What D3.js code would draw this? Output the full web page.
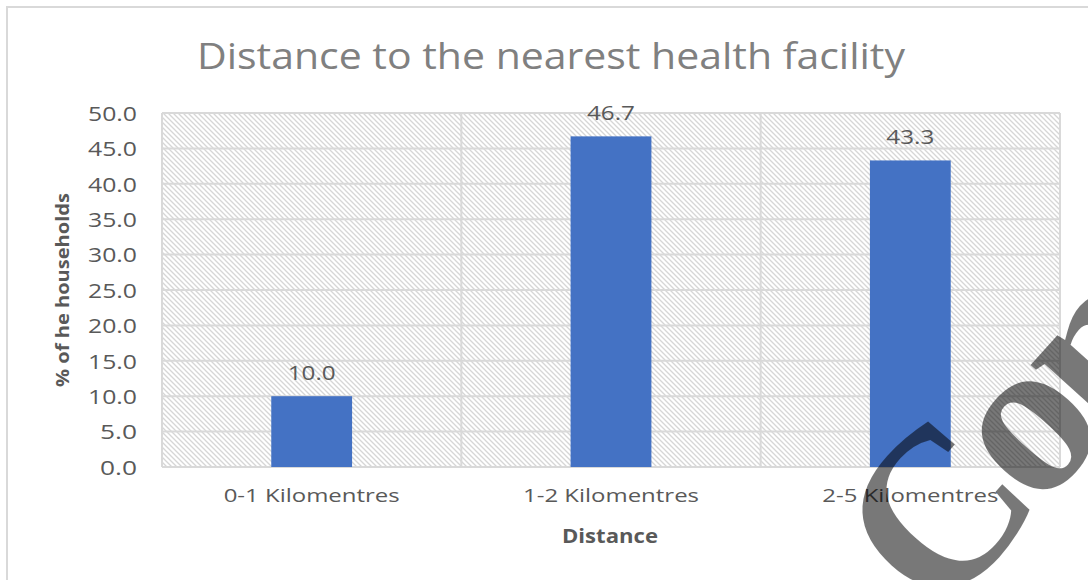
<!DOCTYPE html>
<html>
<head>
<meta charset="utf-8">
<script src="https://cdn.jsdelivr.net/npm/d3@7"></script>
<style>
  body { margin: 0; background: #fff; }
  svg { display: block; }
</style>
</head>
<body>
<svg id="main-svg" width="1088" height="580"></svg>
<script>
// chart values
let categories = ["0-1 Kilomentres", "1-2 Kilomentres", "2-5 Kilomentres"];
let values = [10.0, 46.7, 43.3];
let yTicks = [0, 5, 10, 15, 20, 25, 30, 35, 40, 45, 50];

let width = 1088, height = 580;
let margin = { left: 162, right: 28, top: 113, bottom: 113 };
let textColor = "#595959";
let gridColor = "#d9d9d9";

let svg = d3.select("#main-svg");

// hatch pattern for the plot area
let defs = svg.append("defs");
let hatch = defs.append("pattern")
    .attr("id", "hatch")
    .attr("patternUnits", "userSpaceOnUse")
    .attr("width", 5)
    .attr("height", 5);
hatch.append("rect").attr("width", 5).attr("height", 5).attr("fill", "#fff");
hatch.append("path")
    .attr("d", "M0,0 L5,5 M-1,4 L1,6 M4,-1 L6,1")
    .attr("stroke", "#d6d6d6")
    .attr("stroke-width", 1.3);

// outer frame
svg.append("rect")
    .attr("x", 7).attr("y", 7)
    .attr("width", width + 20).attr("height", height + 20)
    .attr("fill", "#fff")
    .attr("stroke", gridColor)
    .attr("stroke-width", 2);

let x = d3.scaleBand().domain(categories).range([margin.left, width - margin.right]).padding(0);
let y = d3.scaleLinear().domain([0, 50]).range([height - margin.bottom, margin.top]);

let plot = svg.append("g");

plot.append("rect")
    .attr("x", x.range()[0])
    .attr("y", y(50))
    .attr("width", x.range()[1] - x.range()[0])
    .attr("height", y(0) - y(50))
    .attr("fill", "url(#hatch)");

// horizontal grid lines
plot.selectAll(".hgrid")
    .data(yTicks)
    .enter().append("line")
    .attr("class", "hgrid")
    .attr("x1", x.range()[0]).attr("x2", x.range()[1])
    .attr("y1", d => y(d)).attr("y2", d => y(d))
    .attr("stroke", gridColor)
    .attr("stroke-width", 2);

// vertical grid lines at category edges
let edges = categories.map(c => x(c)).concat([x.range()[1]]);
plot.selectAll(".vgrid")
    .data(edges)
    .enter().append("line")
    .attr("class", "vgrid")
    .attr("x1", d => d).attr("x2", d => d)
    .attr("y1", y(50)).attr("y2", y(0))
    .attr("stroke", gridColor)
    .attr("stroke-width", 2);

// bars
let barW = x.bandwidth() * 0.27;
plot.selectAll(".bar")
    .data(values)
    .enter().append("rect")
    .attr("class", "bar")
    .attr("x", (d, i) => x(categories[i]) + x.bandwidth() / 2 - barW / 2)
    .attr("y", d => y(d))
    .attr("width", barW)
    .attr("height", d => y(0) - y(d))
    .attr("fill", "#4472C4");

// value labels
plot.selectAll(".val")
    .data(values)
    .enter().append("text")
    .attr("class", "val")
    .attr("x", (d, i) => x(categories[i]) + x.bandwidth() / 2)
    .attr("y", d => y(d) - 16)
    .attr("text-anchor", "middle")
    .attr("font-family", "Open Sans")
    .attr("font-size", 20)
    .attr("fill", textColor)
    .attr("textLength", 48)
    .attr("lengthAdjust", "spacingAndGlyphs")
    .text(d => d.toFixed(1));

// y axis
let yAxis = d3.axisLeft(y).tickValues(yTicks).tickSize(0).tickPadding(25).tickFormat(d3.format(".1f"));
let yg = svg.append("g")
    .attr("transform", "translate(" + margin.left + ",0)")
    .call(yAxis);
yg.select(".domain").remove();
yg.selectAll("text")
    .attr("font-family", "Open Sans")
    .attr("font-size", 20)
    .attr("fill", textColor)
    .attr("dy", "0.36em")
    .attr("textLength", d => d >= 10 ? 49 : 37)
    .attr("lengthAdjust", "spacingAndGlyphs");

// x axis
let xAxis = d3.axisBottom(x).tickSize(0).tickPadding(22);
let xg = svg.append("g")
    .attr("transform", "translate(0," + y(0) + ")")
    .call(xAxis);
xg.select(".domain").remove();
xg.selectAll("text")
    .attr("font-family", "Open Sans")
    .attr("font-size", 19)
    .attr("fill", textColor)
    .attr("textLength", 176)
    .attr("lengthAdjust", "spacingAndGlyphs");

// title
svg.append("text")
    .attr("x", 551)
    .attr("y", 69)
    .attr("text-anchor", "middle")
    .attr("font-family", "Open Sans")
    .attr("font-size", 37)
    .attr("fill", "#808080")
    .attr("textLength", 708)
    .attr("lengthAdjust", "spacingAndGlyphs")
    .text("Distance to the nearest health facility");

// axis titles
svg.append("text")
    .attr("x", 610)
    .attr("y", 543)
    .attr("text-anchor", "middle")
    .attr("font-family", "Open Sans")
    .attr("font-weight", "bold")
    .attr("font-size", 19)
    .attr("fill", textColor)
    .attr("textLength", 96)
    .attr("lengthAdjust", "spacingAndGlyphs")
    .text("Distance");

svg.append("text")
    .attr("transform", "translate(69,290) rotate(-90)")
    .attr("text-anchor", "middle")
    .attr("font-family", "Open Sans")
    .attr("font-weight", "bold")
    .attr("font-size", 18)
    .attr("fill", textColor)
    .attr("textLength", 194)
    .attr("lengthAdjust", "spacingAndGlyphs")
    .text("% of he households");

// watermark
svg.append("text")
    .attr("transform", "translate(938,622) rotate(-48)")
    .attr("font-family", "Liberation Serif")
    .attr("font-weight", "bold")
    .attr("font-size", 225)
    .attr("letter-spacing", -14)
    .attr("fill", "#000")
    .attr("fill-opacity", 0.53)
    .text("Con");
</script>
</body>
</html>
